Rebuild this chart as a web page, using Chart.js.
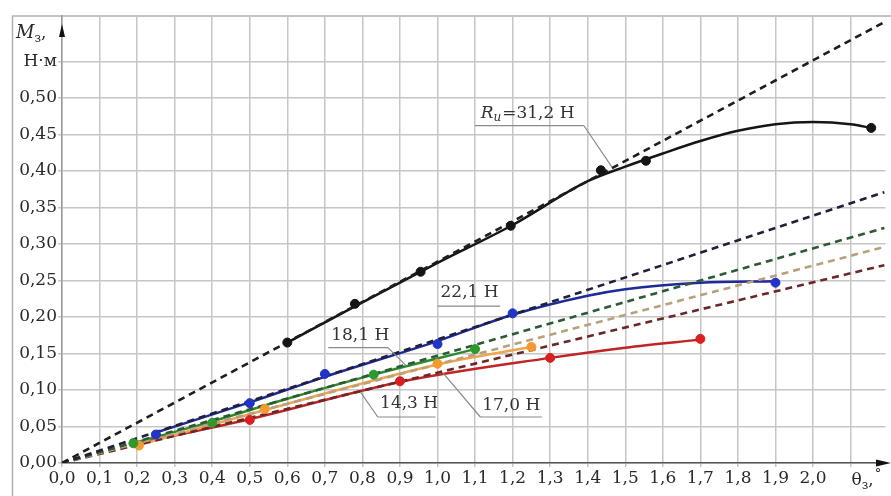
<!DOCTYPE html>
<html>
<head>
<meta charset="utf-8">
<script src="https://cdn.jsdelivr.net/npm/chart.js@4.4.1/dist/chart.umd.min.js"></script>
<style>
  html, body { margin: 0; padding: 0; background: #fff; }
  canvas { display: block; }
</style>
</head>
<body>
<canvas id="c" width="891" height="496"></canvas>
<script>
// ---- tick values and labels ----
const xTickValues = [0,0.1,0.2,0.3,0.4,0.5,0.6,0.7,0.8,0.9,1.0,1.1,1.2,1.3,1.4,1.5,1.6,1.7,1.8,1.9,2.0,2.1];
const xTickLabels = ['0,0','0,1','0,2','0,3','0,4','0,5','0,6','0,7','0,8','0,9','1,0','1,1','1,2','1,3','1,4','1,5','1,6','1,7','1,8','1,9','2,0',''];
const yTickValues = [0,0.05,0.10,0.15,0.20,0.25,0.30,0.35,0.40,0.45,0.50,0.55];
const yTickLabels = ['0,00','0,05','0,10','0,15','0,20','0,25','0,30','0,35','0,40','0,45','0,50','Н·м'];

// ---- experimental points ----
const blackPtsX = [0.60, 0.78, 0.955, 1.195, 1.435, 1.555, 2.155];
const blackPtsY = [0.165, 0.218, 0.262, 0.325, 0.401, 0.414, 0.459];
const bluePtsX  = [0.25, 0.50, 0.70, 1.00, 1.20, 1.90];
const bluePtsY  = [0.039, 0.082, 0.122, 0.163, 0.205, 0.247];
const greenPtsX = [0.19, 0.40, 0.83, 1.10];
const greenPtsY = [0.027, 0.055, 0.121, 0.156];
const orangePtsX = [0.205, 0.54, 1.00, 1.25];
const orangePtsY = [0.024, 0.074, 0.136, 0.159];
const redPtsX = [0.50, 0.90, 1.30, 1.70];
const redPtsY = [0.059, 0.112, 0.144, 0.170];

// ---- fitted curves ----
const blackCurveX = [0.60, 0.80, 1.00, 1.20, 1.40, 1.50, 1.60, 1.70, 1.80, 1.90, 2.00, 2.10, 2.155];
const blackCurveY = [0.165, 0.220, 0.274, 0.326, 0.386, 0.406, 0.424, 0.441, 0.455, 0.464, 0.467, 0.464, 0.459];
const blueCurveX = [0.24, 0.50, 0.70, 1.00, 1.20, 1.40, 1.50, 1.70, 1.90];
const blueCurveY = [0.040, 0.083, 0.118, 0.167, 0.203, 0.229, 0.238, 0.247, 0.249];
const greenCurveX = [0.19, 0.40, 0.60, 0.83, 1.10];
const greenCurveY = [0.027, 0.057, 0.088, 0.121, 0.156];
const orangeCurveX = [0.20, 0.55, 1.00, 1.25];
const orangeCurveY = [0.024, 0.074, 0.135, 0.159];
const redCurveX = [0.21, 0.50, 0.90, 1.30, 1.50, 1.70];
const redCurveY = [0.028, 0.060, 0.111, 0.144, 0.158, 0.169];

// ---- dashed straight lines (start / end) ----
const dashX = [0, 2.19];
const dashBlackY = [0, 0.604];
const dashBlueY = [0, 0.371];
const dashGreenY = [0, 0.322];
const dashOrangeY = [0, 0.296];
const dashRedY = [0, 0.271];

const zip = (xs, ys) => xs.map((x, i) => ({x, y: ys[i]}));

function pts(xs, ys, color) {
  return { type: 'scatter', data: zip(xs, ys), showLine: false,
    pointRadius: 4.5, pointBackgroundColor: color, pointBorderColor: color, pointBorderWidth: 1 };
}
function curve(xs, ys, color) {
  return { type: 'line', data: zip(xs, ys), borderColor: color, borderWidth: 2.5,
    pointRadius: 0, cubicInterpolationMode: 'monotone', fill: false };
}
function dash(ys, color) {
  return { type: 'line', data: zip(dashX, ys), borderColor: color, borderWidth: 2.6,
    borderDash: [7, 5], pointRadius: 0, fill: false };
}

const FONT = "'DejaVu Serif', 'Liberation Serif', serif";

const labels = [
  { text: null, rich: true, tx: 1.115, ty: 0.479, u1: 1.10, u2: 1.39, uy: 0.462, lx1: 1.39, ly1: 0.462, lx2: 1.465, ly2: 0.405 },
  { text: '22,1 Н', tx: 1.008, ty: 0.233, u1: 1.00, u2: 1.167, uy: 0.215 },
  { text: '18,1 Н', tx: 0.717, ty: 0.175, u1: 0.709, u2: 0.868, uy: 0.158, lx1: 0.868, ly1: 0.158, lx2: 0.915, ly2: 0.134 },
  { text: '14,3 Н', tx: 0.847, ty: 0.082, u1: 0.841, u2: 0.995, uy: 0.063, lx1: 0.841, ly1: 0.063, lx2: 0.795, ly2: 0.097 },
  { text: '17,0 Н', tx: 1.119, ty: 0.079, u1: 1.114, u2: 1.278, uy: 0.063, lx1: 1.114, ly1: 0.063, lx2: 1.015, ly2: 0.123 }
];

const decor = {
  id: 'decor',
  beforeDraw(chart) {
    const ctx = chart.ctx;
    ctx.save();
    ctx.fillStyle = '#fff';
    ctx.fillRect(0, 0, chart.width, chart.height);
    ctx.strokeStyle = '#b0b0b0';
    ctx.lineWidth = 1.5;
    ctx.strokeRect(12.5, 16, chart.width, chart.height);
    ctx.restore();
  },
  afterDraw(chart) {
    const ctx = chart.ctx;
    const xs = chart.scales.x, ys = chart.scales.y;
    const X = v => xs.getPixelForValue(v), Y = v => ys.getPixelForValue(v);
    const a = chart.chartArea;
    ctx.save();
    // arrows
    ctx.fillStyle = '#111';
    ctx.beginPath();
    ctx.moveTo(a.left, 24); ctx.lineTo(a.left - 3, 37); ctx.lineTo(a.left + 3, 37); ctx.closePath(); ctx.fill();
    ctx.beginPath();
    ctx.moveTo(891, a.bottom); ctx.lineTo(876, a.bottom - 3.5); ctx.lineTo(876, a.bottom + 3.5); ctx.closePath(); ctx.fill();

    // axis titles
    ctx.fillStyle = '#2a2a2a';
    ctx.textBaseline = 'alphabetic';
    ctx.textAlign = 'left';
    ctx.font = 'italic 18px ' + FONT;
    ctx.fillText('M', 16, 38);
    let w = ctx.measureText('M').width;
    ctx.font = '12px ' + FONT;
    ctx.fillText('з', 16 + w, 42);
    let w2 = ctx.measureText('з').width;
    ctx.font = '17px ' + FONT;
    ctx.fillText(',', 16 + w + w2, 38);

    const tx = X(2.1) + 1;
    ctx.font = '17px ' + FONT;
    ctx.fillText('θ', tx, 485);
    w = ctx.measureText('θ').width;
    ctx.font = '12px ' + FONT;
    ctx.fillText('з', tx + w, 489);
    w2 = ctx.measureText('з').width;
    ctx.font = '17px ' + FONT;
    ctx.fillText(',', tx + w + w2, 485);
    const w3 = ctx.measureText(',').width;
    ctx.font = '13px ' + FONT;
    ctx.fillText('°', tx + w + w2 + w3 + 1, 478);

    // labels
    labels.forEach(l => {
      ctx.strokeStyle = '#8a8a8a';
      ctx.lineWidth = 1.2;
      ctx.beginPath();
      ctx.moveTo(X(l.u1), Y(l.uy)); ctx.lineTo(X(l.u2), Y(l.uy));
      if (l.lx1 !== undefined) { ctx.moveTo(X(l.lx1), Y(l.ly1)); ctx.lineTo(X(l.lx2), Y(l.ly2)); }
      ctx.stroke();
      ctx.fillStyle = '#333';
      ctx.textBaseline = 'middle';
      const px = X(l.tx), py = Y(l.ty);
      if (l.rich) {
        ctx.font = 'italic 17px ' + FONT;
        ctx.fillText('R', px, py);
        let ww = ctx.measureText('R').width;
        ctx.font = 'italic 12px ' + FONT;
        ctx.fillText('и', px + ww, py + 5);
        ww += ctx.measureText('и').width + 1;
        ctx.font = '17px ' + FONT;
        ctx.fillText('=31,2 Н', px + ww, py);
      } else {
        ctx.font = '17px ' + FONT;
        ctx.fillText(l.text, px, py);
      }
    });
    ctx.restore();
  }
};

new Chart(document.getElementById('c'), {
  type: 'line',
  data: {
    datasets: [
      pts(blackPtsX, blackPtsY, '#151515'),
      pts(bluePtsX, bluePtsY, '#2233c8'),
      pts(greenPtsX, greenPtsY, '#2e9a2e'),
      pts(orangePtsX, orangePtsY, '#f59a30'),
      pts(redPtsX, redPtsY, '#d82020'),
      dash(dashBlackY, '#1e1e1e'),
      dash(dashBlueY, '#20203a'),
      dash(dashGreenY, '#2c5a34'),
      dash(dashOrangeY, '#b8a07c'),
      dash(dashRedY, '#6a2828'),
      curve(blackCurveX, blackCurveY, '#151515'),
      curve(blueCurveX, blueCurveY, '#1c2a9a'),
      curve(greenCurveX, greenCurveY, '#2e8a2e'),
      curve(orangeCurveX, orangeCurveY, '#eea450'),
      curve(redCurveX, redCurveY, '#c02424')
    ]
  },
  options: {
    responsive: false,
    animation: false,
    layout: { padding: { top: 16, left: 0, right: 0, bottom: 0 } },
    plugins: { legend: { display: false }, tooltip: { enabled: false } },
    scales: {
      x: {
        type: 'linear', min: 0, max: 2.193,
        afterBuildTicks: s => { s.ticks = xTickValues.map(v => ({ value: v })); },
        afterFit: s => { s.height = 33; },
        ticks: {
          autoSkip: false, maxRotation: 0, padding: 1,
          color: '#2a2a2a', font: { family: FONT, size: 17 },
          callback: (v, i) => xTickLabels[i]
        },
        grid: { color: '#c6c6c6', lineWidth: 1.5, tickLength: 4 },
        border: { color: '#555', width: 1.5 }
      },
      y: {
        type: 'linear', min: 0, max: 0.6123,
        afterBuildTicks: s => { s.ticks = yTickValues.map(v => ({ value: v })); },
        afterFit: s => { s.width = 62; },
        ticks: {
          autoSkip: false, padding: 1,
          color: '#2a2a2a', font: { family: FONT, size: 17 },
          callback: (v, i) => yTickLabels[i]
        },
        grid: { color: '#c6c6c6', lineWidth: 1.5, tickLength: 4 },
        border: { color: '#999', width: 1.5 }
      }
    }
  },
  plugins: [decor]
});
</script>
</body>
</html>
